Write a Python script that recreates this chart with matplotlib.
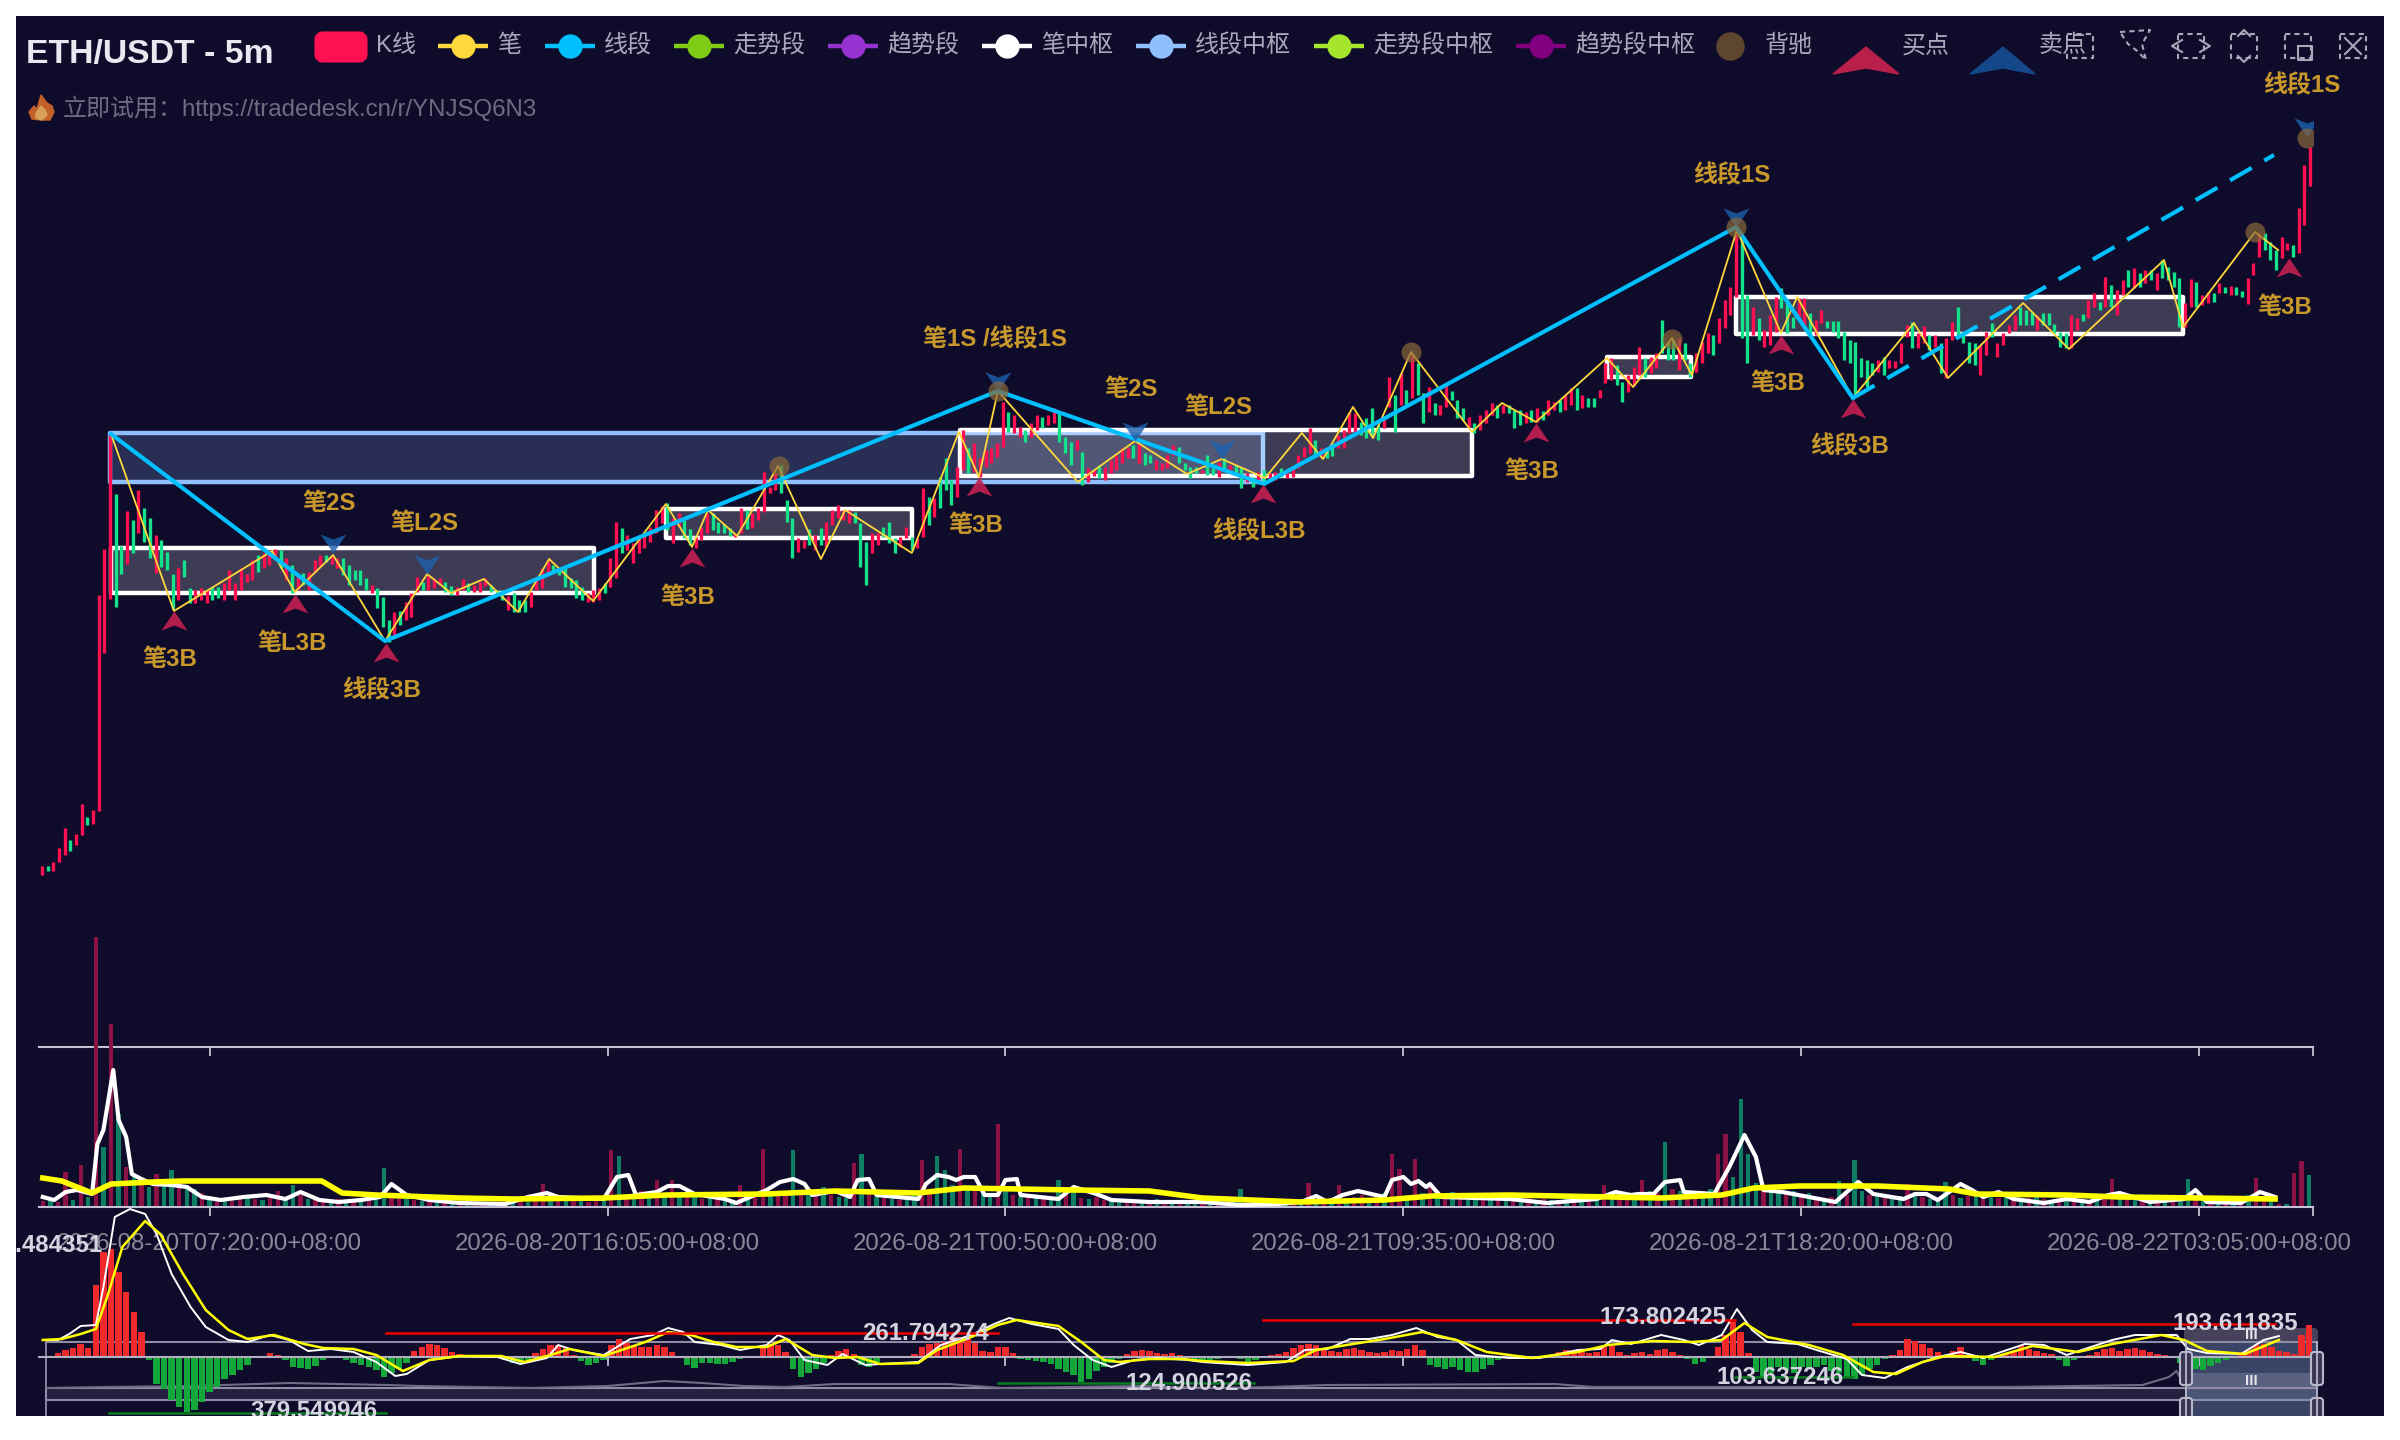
import numpy as np
import matplotlib
matplotlib.use("Agg")
import matplotlib.pyplot as plt
from matplotlib.patches import Rectangle, FancyBboxPatch
from matplotlib.path import Path

plt.rcParams["font.family"] = ["Liberation Sans", "Noto Sans CJK SC"]

BG = "#0f0b2a"
UP = "#ff1050"
DOWN = "#14e28a"
PEN_COL = "#ffd83b"
SEG_COL = "#00bfff"
GOLD = "#c8992a"

# the price axis is hidden in the chart, so candle values are chart units
# counted down from the top of the canvas
# 400 candles, 20 per row
candle_high = [
    866,866,862,848,828,840,834,804,817,810,595,549,433,494,546,511,520,490,508,518,
    535,540,552,574,568,560,588,590,588,590,587,587,583,570,583,568,574,560,555,553,
    550,549,550,558,565,575,573,572,560,555,555,555,558,558,565,570,570,578,585,588,
    597,620,612,611,602,593,577,582,575,578,578,582,586,587,579,583,585,582,578,585,
    590,590,596,593,600,600,592,577,568,560,565,568,567,578,580,587,593,590,588,583,
    558,522,528,535,543,537,533,527,510,506,503,518,513,520,529,537,527,513,513,522,
    524,528,533,508,510,513,508,472,487,473,465,500,518,538,540,529,535,528,522,510,
    505,510,510,512,523,542,533,533,527,522,538,537,527,537,538,488,497,498,477,458,
    480,467,430,448,443,458,450,448,443,402,412,415,427,430,423,415,417,415,408,413,
    437,442,440,452,468,470,465,467,460,455,448,448,445,442,453,455,460,463,455,445,
    447,463,467,467,470,455,468,462,458,465,465,467,473,477,472,470,473,472,468,472,
    467,455,447,428,440,448,450,448,435,430,412,413,422,418,408,425,418,377,395,373,
    390,353,363,393,387,403,405,385,391,400,408,417,423,415,410,403,405,405,405,410,
    410,412,410,408,411,400,402,400,395,388,388,395,398,398,390,363,358,365,382,375,
    367,347,358,357,353,320,342,340,338,343,363,353,342,333,335,318,300,287,230,237,
    295,307,318,330,315,297,288,300,317,298,298,313,320,310,321,321,321,332,340,342,
    358,360,363,360,357,360,361,343,325,322,333,326,335,335,343,338,322,307,332,342,
    343,345,332,323,343,333,325,315,307,310,312,315,313,313,324,332,333,315,318,314,
    300,293,302,277,285,290,280,270,268,273,270,270,273,260,267,272,278,303,279,282,
    295,292,293,283,287,286,287,291,278,263,233,233,242,250,237,243,245,208,165,147,
]
candle_low = [
    875,871,871,862,855,851,845,835,825,824,811,653,599,607,574,564,553,533,542,558,
    573,567,570,609,600,577,603,603,600,603,600,598,600,590,600,590,582,580,572,568,
    565,560,568,580,593,590,585,590,572,566,562,564,568,575,585,580,585,590,593,608,
    627,642,637,625,620,617,592,590,590,588,585,592,595,595,590,592,592,592,586,592,
    595,600,610,612,612,612,607,590,588,573,572,575,587,588,598,600,602,602,600,593,
    587,578,553,550,563,553,548,542,533,523,530,543,527,538,545,548,540,533,530,533,
    533,536,537,533,529,528,520,512,493,490,493,522,558,552,548,545,550,545,547,525,
    518,520,523,523,567,585,553,545,537,543,553,547,538,550,548,537,525,517,508,490,
    505,497,470,473,472,477,467,463,457,447,432,433,437,442,437,430,428,425,423,442,
    453,465,450,485,482,476,478,480,473,470,463,458,458,463,465,463,470,470,468,455,
    463,470,478,473,473,475,475,477,470,470,473,488,482,487,482,483,480,480,477,478,
    477,468,457,453,457,457,458,456,448,448,433,433,435,438,437,440,428,407,432,405,
    407,398,395,423,412,415,415,407,400,418,420,427,433,430,423,415,418,413,413,428,
    425,423,422,422,420,415,410,412,410,405,410,408,407,407,398,383,380,385,402,392,
    385,375,377,373,368,353,360,360,370,360,377,372,363,353,355,343,328,315,297,338,
    363,335,340,347,345,332,308,333,328,317,325,336,335,323,328,332,338,360,363,395,
    377,387,375,372,375,368,368,363,337,348,348,343,350,347,373,378,340,338,343,363,
    365,375,355,337,357,345,333,330,325,325,325,330,325,325,333,347,348,348,330,321,
    318,307,310,307,307,315,295,287,288,287,283,280,290,278,280,287,327,327,307,307,
    305,303,302,293,293,295,295,297,304,275,257,250,260,270,258,250,257,253,225,186,
]
candle_dir = (
    "RGRRRGRRGRRRRGGRGRGG" "RGGGRGGRRRGGRRRRRRGR" "RRGRGRGRRRGRRGGGGGRG" "GGRGRRRGRRRGGRRGRRRG"
    "GGRGGGRRRRGGGGGGRRRG" "RRGRRRRRRRGRRGGRRRGG" "GGRRGRRRRRGGGRRGRGRR" "RRRGGGRRGGGRRGRRGRGG"
    "GRRGRRRRRRGRRGRRGRRG" "GGRGRRGRRRRRGRGGRRRR" "GGGGRGGRGRGGRGRGRRGR" "RRRRGRGGRRRRGGGGRRGR"
    "GRGGRGRRGGGRGRRRGRGG" "GRGRGRRGRRGRGGRRRGGR" "RRGRRGGGRGGRRRGRRRRG" "GRGRRRGGGRRGRRGGGGGG"
    "GGGRGRRRRGRRGRGRRGGG" "GRRGRRRRGGGRGGGGGRRG" "RRGRGRRGRGRGRGGGGRRG" "RRGRGRGGRRRGGGRRGRRR"
)

# 笔 and 线段 pivots as (bar, chart units)
pen_points = [
    (19,434),(35.6,611),(61.5,551),(67.5,592),(77.6,555),(91.3,641),(102.4,574),(108.7,593),
    (117.4,579),(126.4,612),(134.6,559),(146.2,601),(165.4,504),(172.3,547),(176.5,510),(184.2,536),
    (195,466),(206.3,559),(212.7,510),(230.3,553),(242.7,432),(248,477),(253,391),(274.1,482),
    (289.2,441),(302.9,474),(312.1,459),(323.5,478),(333.2,433),(338.8,459),(346.7,407),(352,438),
    (362,352),(378.1,432),(386,403),(395,422),(413.7,358),(420.6,387),(430.9,338),(436.1,375),
    (448,230),(459.6,333),(463.9,297),(478.6,398),(494.7,323),(503.7,378),(523.5,303),(535.6,349),
    (560.7,260),(565.7,327),(584.7,232),(590.8,250),
]
segment_points = [(19,434),(91.3,641),(253,391),(323.2,484),(447.8,227),(478.6,398)]
segment_pending = [(478.6,398),(589.7,155)]

# 中枢 boxes: bar start, bar end, top, bottom
pen_boxes = [
    (19,146.4,548,593),(165.4,230.3,509,538),(243,378.1,430,476),
    (413.7,435.9,357,377),(447.8,565.7,297,334),
]
segment_boxes = [(18.7,323,433,482)]

buy_points = [
    (35.6,611),(67.5,594),(91.6,643),(172.3,548),(248,477),
    (323,484),(395,423),(459.6,335),(478.6,399),(593.7,258),
]
sell_points = [(77.6,553),(102.4,574),(253,391),(289.2,441),(312.1,459),(447.8,227),(598.4,137)]
divergence_points = [(195.3,466),(253,391),(362,352),(430.9,339),(447.8,227),(584.7,232),(598.4,138)]

signal_labels = [
    ("笔2S",76.5,503),("笔L2S",101.6,523),("笔3B",34.6,659),("笔L3B",66.8,644),("线段3B",90.5,691),
    ("笔3B",171.2,598),("笔3B",247.2,526),("笔1S /线段1S",252.2,340),("笔2S",288.1,390),("笔L2S",311.1,408),
    ("线段L3B",321.9,532),("笔3B",393.9,472),("笔3B",458.8,383),("线段3B",477.6,447),("笔3B",592.6,307),
    ("线段1S",597.1,86),("线段1S",446.7,176),
]

# volume, 300 bars, 20 per row, in px of height above the axis
volume = [
    6,8,5,35,7,42,10,270,60,183,93,40,30,30,20,33,22,37,25,22,
    18,14,10,8,7,6,9,12,8,7,10,16,9,22,12,8,10,7,6,8,
    7,6,5,8,12,39,14,10,8,7,6,5,5,4,5,6,5,4,5,5,
    5,4,6,7,5,9,23,11,7,6,8,6,5,7,8,57,51,12,14,16,
    12,27,10,27,12,14,10,8,9,11,8,7,22,9,12,58,14,12,16,57,
    16,14,12,20,12,10,9,44,53,14,10,9,8,7,10,14,47,18,51,37,
    22,58,20,18,16,14,83,16,12,10,9,10,11,8,27,14,20,9,8,10,
    7,6,5,7,5,4,6,8,5,4,5,7,4,5,6,4,5,7,18,6,
    5,6,4,7,5,6,8,24,7,6,9,22,8,10,12,9,11,14,53,38,
    12,48,14,23,10,9,15,8,10,7,8,9,7,6,8,7,9,6,8,7,
    7,9,8,10,8,12,22,9,14,12,10,27,16,14,65,18,16,14,12,16,
    18,53,73,30,108,53,24,20,18,16,14,16,12,14,10,8,10,26,12,47,
    16,12,10,9,8,11,23,14,10,8,9,25,12,9,11,14,8,10,9,12,
    8,7,9,11,8,7,6,8,10,6,7,9,12,28,10,8,9,7,6,8,
    8,10,7,28,12,9,8,7,5,4,5,12,29,8,6,3,3,34,46,32,
]
volume_dir = (
    "RGRRGRGRGRGRGRGRGGRG" "GRGRGRRGRGRRGGRGRRGR" "GRGRGGRRGRGRGRGRGRRG" "RGGRGRRGRGRGRRGRGRGR"
    "GRGRGRGRGRGGRGRRGRRG" "RGRGRGGRGRGRGRGGRRGG" "GRGRGGRGRGRGRGGRGRGR" "RGGRRGRGRGRGGRGRRGGR"
    "RGRGGRGRGRGRGRRGRGRR" "GRGRGRGRGGRGRGRGRGRG" "RGRGRGRGRRGRGRGRGRRG" "GRRGGGGRGGRGRGRGRGRG"
    "GRGRGGRGRGGGRGRGRGRG" "RGRGRGRGRGRGRRGRGRGR" "GRGGRGRGRGRGRRGRGRRG"
)
volume_ma_fast = [
    (1,10),(4,7),(7,15),(10,17),(14,13),(15.4,63),(17,77),(19.6,137),(21,87),(23,70),(24.5,33),(27,28),
    (30,23),(35,22),(39,20),(43,10),(48,7),(54,10),(60,12),(65,8),(69,15),(74,7),(79,5),(85,7),(90,10),
    (93,23),(97,12),(103,7),(111,4),(123,3),(129,10),(134,14),(137,10),(149,8),(152.5,30),(155.5,32),
    (157.5,12),(163,15),(166,21),(169,21),(173,13),(181,8),(184,4),(187,9),(192,17),(195.5,25),(199,28),
    (202,23),(204,12),(210,16),(214,10),(216,27),(219,28),(221,12),(232,8),(234,23),(237,32),(240,30),
    (242,27),(244,30),(247,30),(249.5,12),(253,12),(255,27),(258,28),(259,12),(269,8),(273,20),(279,13),
    (283,7),(293,5),(307,5),(317,2),(327,3),(333,5),(337,11),(340,5),(344,12),(348,16),(355,10),(357,27),
    (360,30),(362,23),(364,26),(366,20),(367,23),(370,10),(388,8),(398,4),(411,8),(416,15),(420,12),
    (422,13),(426,13),(429,25),(433,27),(434,15),(442,13),(446,40),(450,72),(453,50),(455,17),(460,15),
    (474,5),(480,25),(484,13),(492,8),(495,13),(498,13),(501,7),(507,23),(510,17),(513,10),(517,15),
    (521,8),(529,4),(535,8),(541,5),(546,12),(549,14),(557,5),(566,8),(569,17),(572,5),(581,4),(586,15),(590,10),
]
volume_ma_slow = [
    (1,29),(6,26),(10,20),(14,14),(19,23),(30,25),(38,26),(74.6,26),(80,14),(89,12),(111,9),(125,8),
    (149,9),(165.6,12),(192,13),(210,16),(232,14),(244,19),(273,17),(293,16),(307,9),(333,5),(355,7),
    (367.5,11),(388,12),(428,9),(444,12),(452.4,19),(464.5,21),(485,21),(504,18),(511,13),(535,12),
    (549,10),(570,9),(590,8),
]

# MACD, in px from the zero line, 300 histogram bars, 20 per row
macd_hist = [
    0,0,4,7,9,13,9,72,105,108,85,65,45,25,-3,-27,-32,-43,-50,-55,
    -53,-45,-35,-30,-22,-18,-13,-8,-1,1,4,2,-3,-10,-11,-12,-9,-3,0,0,
    -3,-6,-8,-10,-13,-20,-16,-12,-6,6,10,13,12,9,5,3,2,1,2,1,
    0,-3,-6,-7,-3,4,8,12,12,9,2,-4,-8,-6,-3,12,18,14,12,10,
    10,12,10,5,0,-8,-11,-6,-6,-7,-7,-5,-2,0,1,9,13,12,5,-12,
    -20,-16,-12,-6,2,6,8,3,-8,-10,-5,-1,1,0,1,3,10,13,14,15,
    20,20,18,14,6,5,10,10,4,-2,-3,-4,-5,-7,-12,-15,-18,-25,-22,-14,
    -10,-6,-2,3,6,7,6,4,3,4,2,1,-2,-3,-3,-2,0,1,-2,-5,
    -3,0,2,3,5,9,12,13,12,9,6,5,8,9,7,5,4,5,7,6,
    8,12,7,-8,-10,-12,-10,-13,-15,-15,-12,-8,-3,-1,-1,-2,-2,-1,-1,2,
    5,7,7,5,4,5,10,11,5,2,4,5,3,7,8,5,2,-2,-7,-5,
    -1,10,22,35,25,4,-15,-20,-16,-10,-13,-16,-10,-12,-10,-8,-14,-16,-20,-22,
    -18,-12,-8,-2,2,7,18,16,13,9,5,2,6,10,2,-4,-8,-3,1,3,
    5,12,8,6,4,3,-3,-9,-3,0,2,5,8,9,6,8,9,7,5,3,
    2,1,-6,-10,-12,-13,-9,-6,-3,-1,5,7,12,13,10,6,5,3,22,32,
]
macd_dif = [
    (1,17),(5,17),(8,23),(11,31),(15,32),(17,70),(20,140),(24,148),(28,143),(31,123),(35,83),(40,50),(44,30),
    (50,17),(55,15),(61,22),(66,17),(71,6),(77,8),(83,5),(89,-5),(94,-19),(97,-17),(103,-3),(111,1),(121,0),
    (127,-7),(134,-1),(137,12),(141,7),(149,2),(156,18),(162,22),(166,29),(170,25),(173,15),(180,12),(185,7),
    (192,12),(195,22),(198,17),(202,-3),(208,-8),(212,3),(218,-8),(222,-7),(232,-5),(238,12),(246,22),(252,33),
    (256,39),(262,33),(269,28),(273,12),(278,-3),(283,-10),(289,-3),(295,-1),(303,-3),(307,-5),(319,-8),(329,-5),
    (334,7),(340,8),(346,18),(351,18),(357,22),(363.4,29),(369,20),(374,17),(379,2),(388,-1),(396,-1),(406,7),
    (412,8),(415,17),(420,13),(428,22),(434,17),(438,12),(444,22),(448,48),(452,27),(456,15),(464,13),(469,7),
    (477,-2),(481,-18),(487,-21),(493,-10),(501,0),(507,5),(513,-1),(524,13),(529,12),(535,2),(547,17),(553,22),
    (564,22),(567,8),(572,4),(581,3),(587,17),(591,21),
]
macd_dea = [
    (1,17),(6,18),(11,23),(15,28),(18,60),(22,110),(28,136),(32,123),(38,83),(44,47),(50,27),(55,18),(62,22),
    (70,13),(75,9),(83,8),(89,2),(96,-14),(103,-3),(111,1),(122,1),(128,-5),(135,2),(140,8),(149,1),(160,15),
    (166,25),(172,22),(178,15),(184,10),(192,10),(197,18),(204,2),(210,-1),(216,0),(222,-7),(232,-6),(237,7),
    (246,20),(253,32),(258,37),(269,31),(275,15),(281,-3),(285,-5),(293,-2),(302,-2),(307,-4),(319,-6),(331,-4),
    (337,7),(345,12),(355,18),(365,25),(374,17),(382,5),(394,-1),(406,5),(414,12),(426,16),(436,15),(444,17),
    (450,34),(456,20),(467,12),(476,2),(484,-15),(490,-17),(497,-5),(503,1),(516,0),(526,11),(538,5),(547,13),
    (560,22),(566,17),(572,6),(582,3),(591,17),
]
# extreme mark lines: value text, bar start, bar end, line height, label bar, label height
macd_max_lines = [
    ("261.794274",91.5,253,24,234,24),
    ("173.802425",323,447.5,37,428.5,39),
    ("193.611835",478.6,590,33,579.5,34),
]
macd_min_lines = [
    ("379.549946",18.5,91.5,-56,72.5,-55),
    ("124.900526",253,320.5,-26,303.5,-26),
    ("103.637246",447.5,478.6,-20,459.5,-20),
]
macd_top_label = ("484.484351",0,112)

slider_shadow = [
    (2,-31),(18,-30),(40,-29),(66,-26),(92,-28),(100,-29),(130,-31),(150,-29),(165,-24),(175,-26),
    (186,-29),(197,-30),(210,-27),(240,-27),(254,-31),(290,-29),(310,-31),(325,-30),(340,-28),(400,-27),
    (410,-30),(520,-30),(555,-28),(562,-20),(564,-14),(566,-28),
]

bar_ticks = [45, 150, 255, 360, 465, 570, 600]
bar_tick_labels = [
    "2026-08-20T07:20:00+08:00", "2026-08-20T16:05:00+08:00", "2026-08-21T00:50:00+08:00",
    "2026-08-21T09:35:00+08:00", "2026-08-21T18:20:00+08:00", "2026-08-22T03:05:00+08:00", "",
]

legend_lines = [
    ("笔", 438, PEN_COL), ("线段", 545, SEG_COL), ("走势段", 674, "#80cc14"), ("趋势段", 828, "#9632d0"),
    ("笔中枢", 982, "#ffffff"), ("线段中枢", 1136, "#8fbfff"), ("走势段中枢", 1314, "#a5e62d"),
    ("趋势段中枢", 1516, "#800080"),
]

fig = plt.figure(figsize=(24, 14.4), dpi=100, facecolor=BG)


def panel(top, bottom, z):
    ax = fig.add_axes([39 / 2400, 1 - bottom / 1440, (2313 - 39) / 2400, (bottom - top) / 1440], zorder=z)
    ax.patch.set_visible(False)
    ax.set_xlim(0, 600)
    for side in ["top", "left", "right"]:
        ax.spines[side].set_visible(False)
    ax.spines["bottom"].set_color("#c4c2d4")
    ax.spines["bottom"].set_linewidth(1.5)
    ax.set_yticks([])
    ax.set_xticks(bar_ticks)
    ax.set_xticklabels([])
    ax.tick_params(axis="x", length=6.5, width=1.3, color="#c4c2d4")
    return ax


# ---- main chart ----
ax_ui = fig.add_axes([0, 0, 1, 1], zorder=1)
ax_ui.set_xlim(0, 2400)
ax_ui.set_ylim(1440, 0)
ax_ui.axis("off")

ax = panel(16, 1047, 2)
ax.set_ylim(1047, 16)

for x0, x1, top, bot in segment_boxes:
    ax.add_patch(Rectangle((x0, top), x1 - x0, bot - top, fc=(0.56, 0.75, 1, 0.2), ec="#8fbfff", lw=3.2,
                           joinstyle="round", zorder=2))
for x0, x1, top, bot in pen_boxes:
    ax.add_patch(Rectangle((x0, top), x1 - x0, bot - top, fc=(1, 1, 1, 0.2), ec="#ffffff", lw=3.2,
                           joinstyle="round", zorder=2))

candle_x = (np.arange(len(candle_high)) + 0.5) * 1.5
colors = [UP if d == "R" else DOWN for d in candle_dir]
ax.vlines(candle_x, candle_low, candle_high, colors=colors, lw=2.4, capstyle="butt", zorder=3)

px, py = zip(*pen_points)
ax.plot(px, py, color=PEN_COL, lw=1.3, zorder=4)
sx, sy = zip(*segment_points)
ax.plot(sx, sy, color=SEG_COL, lw=3, zorder=5)
dx, dy = zip(*segment_pending)
ax.plot(dx, dy, color=SEG_COL, lw=3, ls=(0, (6, 3.5)), zorder=5)

# arrows with the tip on the signal point
buy_arrow = Path([(0, 0), (0.68, -1), (0, -0.74), (-0.68, -1), (0, 0)], closed=True)
sell_arrow = Path([(0, 0), (0.68, 1), (0, 0.74), (-0.68, 1), (0, 0)], closed=True)
bx, by = zip(*buy_points)
ax.plot(bx, by, ls="", marker=buy_arrow, ms=27.4, color="#c42050", alpha=0.9, mew=0, zorder=6)
ex, ey = zip(*sell_points)
ax.plot(ex, ey, ls="", marker=sell_arrow, ms=27.4, color="#1c62b0", alpha=0.8, mew=0, zorder=6)
cx, cy = zip(*divergence_points)
ax.plot(cx, cy, ls="", marker="o", ms=14.4, color="#8a683a", alpha=0.7, mew=0, zorder=7)

for text, x, y in signal_labels:
    ax.text(x, y, text, color=GOLD, fontsize=17.3, fontweight="bold", ha="center", va="center", zorder=8)

# ---- volume ----
ax_vol = panel(1047, 1207, 3)
ax_vol.set_ylim(0, 160)
vol_x = (np.arange(len(volume)) + 0.5) * 2
vol_colors = ["#8c1145" if d == "R" else "#0f7f63" for d in volume_dir]
ax_vol.bar(vol_x, volume, width=1.15, color=vol_colors, clip_on=False, zorder=2)
vx, vy = zip(*volume_ma_fast)
ax_vol.plot(vx, vy, color="#ffffff", lw=3, zorder=3)
wx, wy = zip(*volume_ma_slow)
ax_vol.plot(wx, wy, color="#ffff00", lw=4, zorder=4)
ax_vol.set_xticklabels(bar_tick_labels, color="#8a8898", fontsize=17.3)
ax_vol.tick_params(axis="x", pad=12)

# ---- MACD ----
ax_macd = panel(1207, 1416, 4)
ax_macd.set_ylim(-59, 150)
ax_macd.spines["bottom"].set_position(("data", 0))
ax_macd.spines["bottom"].set_color("#b0aec0")
hist_x = (np.arange(len(macd_hist)) + 0.5) * 2
hist_colors = ["#f02a2a" if v > 0 else "#14a83a" for v in macd_hist]
ax_macd.bar(hist_x, macd_hist, width=1.7, color=hist_colors, zorder=2)
ix, iy = zip(*macd_dif)
ax_macd.plot(ix, iy, color="#ffffff", lw=1.4, zorder=3)
ax_macd.plot(*zip(*macd_dea), color="#ffff00", lw=1.8, zorder=3)
for text, x0, x1, y, lx, ly in macd_max_lines:
    ax_macd.plot([x0, x1], [y, y], color="#f00000", lw=1.8, zorder=4)
    ax_macd.text(lx, ly, text, color="#d4d4e0", fontsize=17.3, fontweight="bold", ha="center", va="center", zorder=5)
for text, x0, x1, y, lx, ly in macd_min_lines:
    ax_macd.plot([x0, x1], [y, y], color="#0a7a1e", lw=1.8, zorder=4)
    ax_macd.text(lx, ly, text, color="#d4d4e0", fontsize=17.3, fontweight="bold", ha="center", va="center", zorder=5)
ax_macd.text(macd_top_label[1], macd_top_label[2], macd_top_label[0], color="#d4d4e0", fontsize=17.3,
             fontweight="bold", ha="center", va="center", zorder=5)
ax_macd.plot(*zip(*slider_shadow), color="#6e6c85", lw=1.5, zorder=1)

# ---- title, legend ----
ax_ui.text(26, 55, "ETH/USDT - 5m", color="#e8e8f0", fontsize=24.3, fontweight="bold", va="center")
ax_ui.text(63, 108, "立即试用：https://tradedesk.cn/r/YNJSQ6N3", color="#6f6c82", fontsize=17.3, va="center")
ax_ui.fill([41, 47, 52, 54, 50, 41, 32, 29, 34, 37], [95, 103, 106, 112, 120, 120, 119, 112, 106, 109], color="#c2602a")
ax_ui.fill([41, 45, 47, 42, 36, 36], [106, 110, 115, 120, 118, 113], color="#d9a05b")

ax_ui.add_patch(FancyBboxPatch((320, 37), 42, 20, boxstyle="round,pad=0,rounding_size=3", mutation_scale=1,
                               fc=UP, ec=UP, lw=8))
ax_ui.text(376, 46, "K线", color="#aaa8bb", fontsize=17.3, va="center")
for name, x, col in legend_lines:
    ax_ui.plot([x, x + 50], [46, 46], color=col, lw=3.2, solid_capstyle="butt")
    ax_ui.plot(x + 25, 46, "o", color=col, ms=17.5, mew=0)
    ax_ui.text(x + 59, 46, name, color="#aaa8bb", fontsize=17.3, va="center")
ax_ui.plot(1730, 46, "o", color="#5e4630", ms=20.5, mew=0)
ax_ui.text(1765, 46, "背驰", color="#aaa8bb", fontsize=17.3, va="center")
ax_ui.fill([1866, 1899, 1866, 1833], [47, 74, 68, 74], color="#b81f4a")
ax_ui.text(1902, 46, "买点", color="#aaa8bb", fontsize=17.3, va="center")
ax_ui.fill([2003, 2035, 2003, 1970], [47, 74, 68, 74], color="#14488a")
ax_ui.text(2038, 46, "卖点", color="#aaa8bb", fontsize=17.3, va="center")

# toolbox icons
icon_col = "#a8a8b8"
dash = (0, (2.5, 2))
for x in [2080, 2191, 2244, 2298, 2353]:
    ax_ui.plot([x - 13, x + 13, x + 13, x - 13, x - 13], [34, 34, 58, 58, 34], color=icon_col, lw=1.5, ls=dash)
ax_ui.plot([2120, 2150, 2142, 2146, 2136, 2128, 2120], [32, 30, 44, 60, 50, 44, 32], color=icon_col, lw=1.5, ls=dash)
ax_ui.plot([2200, 2210, 2200], [40, 46, 52], color=icon_col, lw=1.5)
ax_ui.plot([2182, 2172, 2182], [40, 46, 52], color=icon_col, lw=1.5)
ax_ui.plot([2238, 2244, 2250], [36, 30, 36], color=icon_col, lw=1.5)
ax_ui.plot([2238, 2244, 2250], [56, 62, 56], color=icon_col, lw=1.5)
ax_ui.plot([2298, 2312, 2312, 2298, 2298], [46, 46, 60, 60, 46], color=icon_col, lw=1.5)
ax_ui.plot([2345, 2361], [38, 54], color=icon_col, lw=1.5)
ax_ui.plot([2345, 2361], [54, 38], color=icon_col, lw=1.5)

# ---- dataZoom sliders, they sit under the MACD panel ----
slider_col = "#8f8ca8"
ax_ui.plot([46, 2186], [1342, 1342], color=slider_col, lw=1.5)
ax_ui.plot([46, 46], [1342, 1420], color=slider_col, lw=1.3)
ax_ui.add_patch(Rectangle((46, 1388), 2140, 12, fc="#24203f", ec=slider_col, lw=1.5))
ax_ui.add_patch(Rectangle((2186, 1342), 131, 31, fc="#3a4466", ec="none"))
ax_ui.add_patch(Rectangle((2186, 1373), 131, 15, fc="#5a6080", ec="none"))
ax_ui.add_patch(Rectangle((2186, 1388), 131, 12, fc="#4a5578", ec="none"))
ax_ui.add_patch(Rectangle((2186, 1400), 131, 18, fc="#3a4466", ec="none"))
ax_ui.plot([2186, 2317], [1342, 1342], color=slider_col, lw=1.5)
ax_ui.plot([2186, 2317], [1388, 1388], color=slider_col, lw=1.5)
ax_ui.plot([2186, 2317], [1400, 1400], color=slider_col, lw=1.5)
ax_ui.add_patch(FancyBboxPatch((2184, 1328), 134, 14, boxstyle="round,pad=0,rounding_size=4", mutation_scale=1,
                               fc="#46425c", ec="none"))
ax_ui.text(2251, 1335, "III", color="#e4e4ec", fontsize=11, ha="center", va="center", fontweight="bold")
ax_ui.text(2251, 1381, "III", color="#e4e4ec", fontsize=11, ha="center", va="center", fontweight="bold")

# handles go on top of the panel, so they get their own layer with the white page margin
ax_top = fig.add_axes([0, 0, 1, 1], zorder=10)
ax_top.set_xlim(0, 2400)
ax_top.set_ylim(1440, 0)
ax_top.axis("off")
for x in [2186, 2317]:
    ax_top.plot([x, x], [1342, 1420], color="#b8b8cc", lw=1.3)
    for top, bot in [(1352, 1385), (1398, 1425)]:
        ax_top.add_patch(FancyBboxPatch((x - 6, top), 12, bot - top, boxstyle="round,pad=0,rounding_size=3",
                                        mutation_scale=1, fc="#3a3552", ec="#b8b8cc", lw=1.5))
# white page margin round the canvas
for rect in [(0, 0, 2400, 16), (0, 1416, 2400, 24), (0, 0, 16, 1440), (2384, 0, 16, 1440)]:
    ax_top.add_patch(Rectangle(rect[:2], rect[2], rect[3], fc="white", ec="none", zorder=20))

fig.savefig("out.png", dpi=100)
